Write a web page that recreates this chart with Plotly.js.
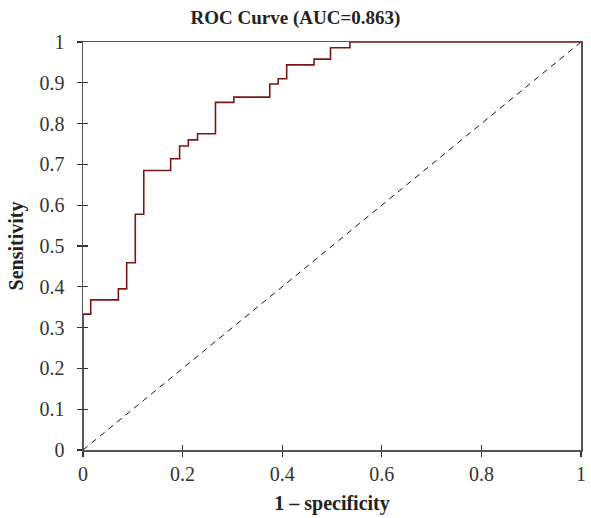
<!DOCTYPE html>
<html>
<head>
<meta charset="utf-8">
<script src="https://cdn.plot.ly/plotly-3.0.1.min.js"></script>
<style>html,body{margin:0;padding:0;background:#fff;}#chart{width:591px;height:518px;}</style>
</head>
<body>
<div id="chart"></div>
<script>
// ROC step curve (1 - specificity, sensitivity)
var fpr = [0, 0, 0.0155, 0.071, 0.0877, 0.105, 0.122, 0.176, 0.194, 0.2115, 0.230, 0.266, 0.303, 0.375, 0.392, 0.409, 0.464, 0.497, 0.536, 1];
var tpr = [0, 0.333, 0.368, 0.395, 0.459, 0.578, 0.685, 0.714, 0.745, 0.760, 0.775, 0.852, 0.865, 0.897, 0.910, 0.944, 0.958, 0.986, 1, 1];
var refX = [0, 1];
var refY = [0, 1];
var xTicks = [0, 0.2, 0.4, 0.6, 0.8, 1];
var xTickText = ['0', '0.2', '0.4', '0.6', '0.8', '1'];
var yTicks = [0, 0.1, 0.2, 0.3, 0.4, 0.5, 0.6, 0.7, 0.8, 0.9, 1];
var yTickText = ['0', '0.1', '0.2', '0.3', '0.4', '0.5', '0.6', '0.7', '0.8', '0.9', '1'];

var serif = 'Liberation Serif, Times New Roman, serif';

var traces = [
  {x: refX, y: refY, mode: 'lines', line: {color: '#111', width: 1, dash: '6px,5px'}, hoverinfo: 'skip', showlegend: false},
  {x: fpr, y: tpr, mode: 'lines', line: {color: '#7d1518', width: 1.6, shape: 'hv'}, showlegend: false},
  {x: [0], y: [0], xaxis: 'x2', yaxis: 'y2', mode: 'markers', marker: {opacity: 0}, hoverinfo: 'skip', showlegend: false}
];

var layout = {
  width: 591, height: 518,
  margin: {l: 83, r: 10, t: 42, b: 68},
  paper_bgcolor: '#fff', plot_bgcolor: '#fff',
  font: {family: serif, color: '#333', size: 20},
  title: {text: '<b>ROC Curve (AUC=0.863)</b>', font: {family: serif, size: 19, color: '#222'}, x: 0.5, xanchor: 'center', y: 0.967, yanchor: 'middle'},
  xaxis: {
    range: [0, 1], tickvals: xTicks, ticktext: xTickText,
    ticks: 'outside', ticklen: 5, tickwidth: 1.2, tickcolor: '#333',
    showline: true, linecolor: '#555', linewidth: 1.5, mirror: true,
    showgrid: false, zeroline: false, fixedrange: true,
    ticklabelstandoff: 0,
    tickfont: {family: serif, size: 20, color: '#333'},
    title: {text: '<b>1 – specificity</b>', font: {family: serif, size: 20, color: '#222'}, standoff: 12}
  },
  yaxis: {
    range: [0, 1], tickvals: yTicks, ticktext: yTickText,
    ticks: 'outside', ticklen: 5, tickwidth: 1.2, tickcolor: '#333',
    showline: true, linecolor: '#555', linewidth: 1.5, mirror: true,
    showgrid: false, zeroline: false, fixedrange: true,
    ticklabelstandoff: 8,
    tickfont: {family: serif, size: 20, color: '#333'},
    title: {text: '<b>Sensitivity</b>', font: {family: serif, size: 20, color: '#222'}, standoff: 10}
  },
  xaxis2: {
    overlaying: 'x', range: [0, 1], tickvals: xTicks, ticks: 'inside', ticklen: 5, tickwidth: 1.2, tickcolor: '#333',
    showticklabels: false, showline: false, showgrid: false, zeroline: false, fixedrange: true, anchor: 'y2', side: 'bottom'
  },
  yaxis2: {
    overlaying: 'y', range: [0, 1], tickvals: yTicks, ticks: 'inside', ticklen: 5, tickwidth: 1.2, tickcolor: '#333',
    showticklabels: false, showline: false, showgrid: false, zeroline: false, fixedrange: true, anchor: 'x2', side: 'left'
  }
};

Plotly.newPlot('chart', traces, layout, {displayModeBar: false, staticPlot: true});
</script>
</body>
</html>
